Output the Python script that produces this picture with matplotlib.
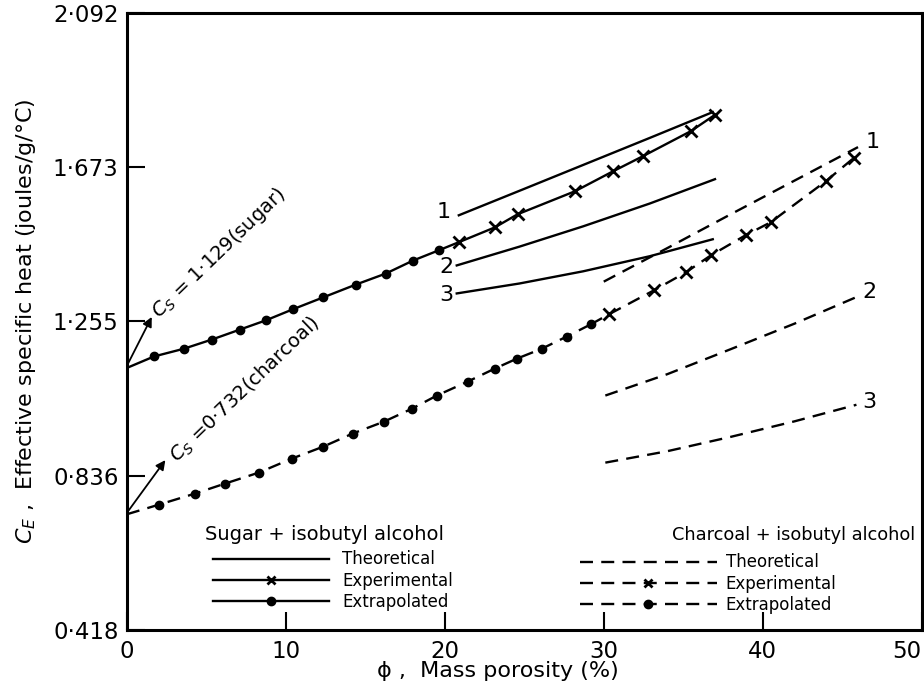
import matplotlib
matplotlib.use("Agg")
import matplotlib.pyplot as plt
from matplotlib.lines import Line2D

# ---------------- data ----------------
# Sugar + isobutyl alcohol
sugar_cs = 1.129
sugar_extrap_x = [1.70, 3.58, 5.35, 7.11, 8.74, 10.44, 12.33, 14.40, 16.29, 17.99, 19.62]
sugar_extrap_y = [1.160, 1.181, 1.206, 1.233, 1.258, 1.288, 1.320, 1.355, 1.385, 1.420, 1.448]
sugar_exp_x = [20.88, 23.14, 24.59, 28.18, 30.57, 32.45, 35.47, 36.98]
sugar_exp_y = [1.470, 1.510, 1.546, 1.608, 1.662, 1.703, 1.771, 1.815]
sugar_th1_x = [20.88, 24.9, 28.9, 32.9, 36.86]
sugar_th1_y = [1.543, 1.613, 1.683, 1.753, 1.823]
sugar_th2_x = [20.75, 24.7, 28.7, 32.9, 37.0]
sugar_th2_y = [1.407, 1.458, 1.513, 1.575, 1.641]
sugar_th3_x = [20.75, 24.7, 28.7, 32.9, 36.86]
sugar_th3_y = [1.331, 1.358, 1.391, 1.432, 1.478]

# Charcoal + isobutyl alcohol
charcoal_cs = 0.732
char_extrap_x = [2.01, 4.28, 6.16, 8.30, 10.38, 12.33, 14.21, 16.16, 17.92, 19.50,
                 21.45, 23.14, 24.53, 26.10, 27.67, 29.18]
char_extrap_y = [0.758, 0.788, 0.815, 0.845, 0.883, 0.915, 0.951, 0.983, 1.018, 1.054,
                 1.092, 1.127, 1.154, 1.181, 1.214, 1.247]
char_exp_x = [30.31, 33.14, 35.16, 36.73, 38.93, 40.50, 43.96, 45.72]
char_exp_y = [1.274, 1.339, 1.388, 1.434, 1.489, 1.524, 1.635, 1.698]
char_th1_x = [30.0, 34.0, 38.0, 42.0, 46.0]
char_th1_y = [1.363, 1.454, 1.546, 1.637, 1.728]
char_th2_x = [30.1, 34.0, 38.0, 42.0, 46.0]
char_th2_y = [1.054, 1.112, 1.180, 1.249, 1.323]
char_th3_x = [30.1, 34.0, 38.0, 42.0, 45.9]
char_th3_y = [0.872, 0.903, 0.942, 0.984, 1.029]

y_ticks = [0.418, 0.836, 1.255, 1.673, 2.092]
y_tick_labels = ["0·418", "0·836", "1·255", "1·673", "2·092"]
x_ticks = [0, 10, 20, 30, 40, 50]
x_tick_labels = ["0", "10", "20", "30", "40", "50"]

# ---------------- figure ----------------
plt.rcParams['font.family'] = ['DejaVu Sans']
fig = plt.figure(figsize=(9.24, 6.91), dpi=100)
ax = fig.add_axes([0.1374, 0.0883, 0.860, 0.893])
ax.set_xlim(0, 50)
ax.set_ylim(0.418, 2.092)

lw = 1.7
dash = (5.5, 3.5)
k = 'black'

# sugar
ax.plot([0] + sugar_extrap_x, [sugar_cs] + sugar_extrap_y, color=k, lw=lw,
        marker='o', ms=6, markevery=slice(1, None))
ax.plot([sugar_extrap_x[-1]] + sugar_exp_x, [sugar_extrap_y[-1]] + sugar_exp_y, color=k, lw=lw,
        marker='x', ms=9, mew=2.0, markevery=slice(1, None))
for xs, ys in [(sugar_th1_x, sugar_th1_y), (sugar_th2_x, sugar_th2_y), (sugar_th3_x, sugar_th3_y)]:
    ax.plot(xs, ys, color=k, lw=lw)

# charcoal
ax.plot([0] + char_extrap_x, [charcoal_cs] + char_extrap_y, color=k, lw=lw, dashes=dash,
        marker='o', ms=6, markevery=slice(1, None))
ax.plot([char_extrap_x[-1]] + char_exp_x, [char_extrap_y[-1]] + char_exp_y, color=k, lw=lw,
        dashes=dash, marker='x', ms=9, mew=2.0, markevery=slice(1, None))
for xs, ys in [(char_th1_x, char_th1_y), (char_th2_x, char_th2_y), (char_th3_x, char_th3_y)]:
    ax.plot(xs, ys, color=k, lw=lw, dashes=dash)

# curve numbers
for lab, (x, y) in zip(["1", "2", "3"], [(19.9, 1.551), (20.1, 1.402), (20.1, 1.326)]):
    ax.text(x, y, lab, fontsize=16, ha='center', va='center')
for lab, (x, y) in zip(["1", "2", "3"], [(46.9, 1.741), (46.7, 1.334), (46.7, 1.037)]):
    ax.text(x, y, lab, fontsize=16, ha='center', va='center')

# Cs annotations
ax.annotate("", xy=(1.64, 1.274), xytext=(0, sugar_cs + 0.006),
            arrowprops=dict(arrowstyle='-|>', color=k, lw=1.3, mutation_scale=14))
ax.text(2.0, 1.262, "$C_S$ = 1·129(sugar)", fontsize=14, rotation=44,
        rotation_mode='anchor', ha='left', va='baseline')
ax.annotate("", xy=(2.52, 0.885), xytext=(0, charcoal_cs + 0.004),
            arrowprops=dict(arrowstyle='-|>', color=k, lw=1.3, mutation_scale=14))
ax.text(3.2, 0.870, "$C_S$ =0·732(charcoal)", fontsize=14, rotation=44,
        rotation_mode='anchor', ha='left', va='baseline')

# legends
ax.text(0.098, 0.154, "Sugar + isobutyl alcohol", transform=ax.transAxes,
        fontsize=14, ha='left', va='center')
ax.text(0.686, 0.154, "Charcoal + isobutyl alcohol", transform=ax.transAxes,
        fontsize=12.8, ha='left', va='center')

h_s = [Line2D([], [], color=k, lw=lw),
       Line2D([], [], color=k, lw=lw, marker='x', ms=6, mew=2),
       Line2D([], [], color=k, lw=lw, marker='o', ms=6)]
h_c = [Line2D([], [], color=k, lw=lw, dashes=dash),
       Line2D([], [], color=k, lw=lw, dashes=dash, marker='x', ms=6, mew=2),
       Line2D([], [], color=k, lw=lw, dashes=dash, marker='o', ms=6)]
labs = ["Theoretical", "Experimental", "Extrapolated"]
leg1 = ax.legend(h_s, labs, loc='upper left', bbox_to_anchor=(0.108, 0.129), frameon=False,
                 fontsize=12, handlelength=7.0, handletextpad=0.75, labelspacing=0.2,
                 borderpad=0, borderaxespad=0, numpoints=1)
ax.add_artist(leg1)
ax.legend(h_c, labs, loc='upper left', bbox_to_anchor=(0.570, 0.124), frameon=False,
          fontsize=12, handlelength=8.2, handletextpad=0.55, labelspacing=0.2,
          borderpad=0, borderaxespad=0, numpoints=1)

# axes styling
for s in ax.spines.values():
    s.set_linewidth(2.2)
ax.set_yticks(y_ticks)
ax.set_yticklabels(y_tick_labels)
ax.set_xticks(x_ticks)
ax.set_xticklabels(x_tick_labels)
ax.tick_params(direction='in', length=13, width=1.5, labelsize=16.5, pad=6)
ax.tick_params(axis='x', pad=7)
ax.get_xticklabels()[-1].set_horizontalalignment('right')
ax.set_xlabel("ϕ ,  Mass porosity (%)", fontsize=16)
ax.xaxis.set_label_coords(0.467, -0.050)
ax.set_ylabel("$C_E$ ,  Effective specific heat (joules/g/°C)", fontsize=16)
ax.yaxis.set_label_coords(-0.112, 0.5)

fig.savefig("out.png", dpi=100)
